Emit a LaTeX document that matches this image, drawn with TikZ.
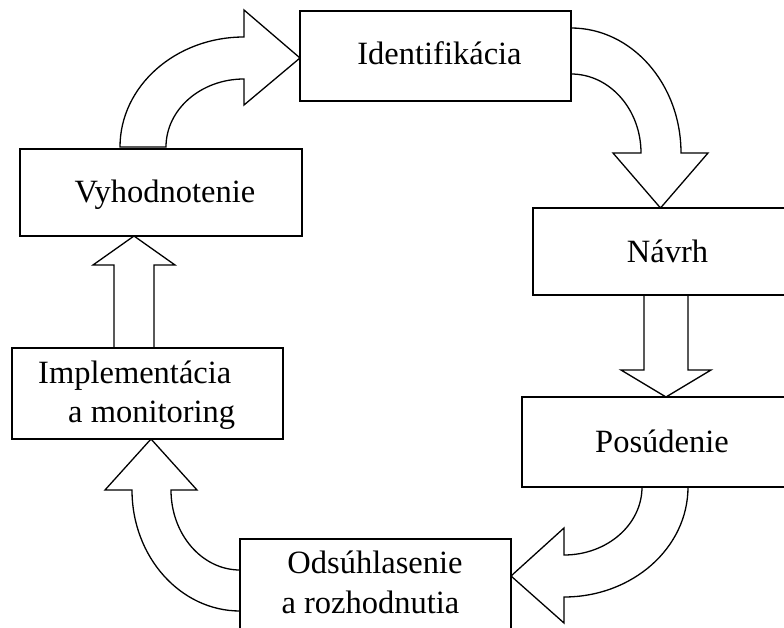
\documentclass[tikz,border=0pt]{standalone}
\usepackage{fontspec}
\setmainfont{Liberation Serif}
\begin{document}
\begin{tikzpicture}[x=1pt,y=-1pt,
  box/.style={draw, line width=2pt, fill=white, rectangle, inner sep=0pt},
  blockarrow/.style={draw, line width=1.3pt, fill=white, line join=miter},
  lbl/.style={inner sep=0pt, font=\fontsize{32.5}{39}\selectfont}]
\useasboundingbox (0,0) rectangle (784,628);
\clip (0,0) rectangle (784,628);

% block arrows
% Vyhodnotenie -> Identifikacia
\draw[blockarrow] (120,147) .. controls (120,86.2) and (175.5,37) .. (244,37)
  -- (244,10) -- (300,58) -- (244,105) -- (244,79)
  .. controls (200.9,79) and (166,109.4) .. (166,147) -- cycle;
% Identifikacia -> Navrh
\draw[blockarrow] (571,28) .. controls (631.8,28) and (681,84) .. (681,153)
  -- (708,153) -- (660.5,208) -- (613,153) -- (641,153)
  .. controls (641,109.4) and (609.7,74) .. (571,74) -- cycle;
% Navrh -> Posudenie
\draw[blockarrow] (644,295) -- (644,370) -- (621,370) -- (666,397) -- (711,370)
  -- (688,370) -- (688,295) -- cycle;
% Posudenie -> Odsuhlasenie
\draw[blockarrow] (688,487) .. controls (688,547.8) and (632.5,597) .. (564,597)
  -- (564,623) -- (511,576) -- (564,528) -- (564,555)
  .. controls (607.1,555) and (642,524.6) .. (642,487) -- cycle;
% Odsuhlasenie -> Implementacia
\draw[blockarrow] (240,611) .. controls (180.4,611) and (132,556.8) .. (132,490)
  -- (105,490) -- (151,439) -- (197,490) -- (171,490)
  .. controls (171,534.2) and (201.9,570) .. (240,570) -- cycle;
% Implementacia -> Vyhodnotenie
\draw[blockarrow] (114,348) -- (114,265) -- (93,265) -- (134,236) -- (175,265)
  -- (154,265) -- (154,348) -- cycle;

% boxes
\node[box, minimum width=271pt, minimum height=90pt] (ident) at (435.5,56) {};
\node[box, minimum width=268pt, minimum height=87pt] (navrh) at (667,251.5) {};
\node[box, minimum width=280pt, minimum height=90pt] (posud) at (662,442) {};
\node[box, minimum width=271pt, minimum height=111pt] (odsuh) at (375.5,594.5) {};
\node[box, minimum width=271pt, minimum height=91pt] (impl) at (147.5,393.5) {};
\node[box, minimum width=282pt, minimum height=87pt] (vyhod) at (161,192.5) {};

% labels
\node[lbl, anchor=base] (tident) at (439.5,65) {Identifikácia};
\node[lbl, anchor=base] (tnavrh) at (667.5,263) {Návrh};
\node[lbl, anchor=base] (tposud) at (662,452) {Posúdenie};
\node[lbl, anchor=base] (todsuh1) at (375,573) {Odsúhlasenie};
\node[lbl, anchor=base] (todsuh2) at (370.5,613) {a rozhodnutia};
\node[lbl, anchor=base west] (timpl1) at (38,383) {Implementácia};
\node[lbl, anchor=base west] (timpl2) at (68,422) {a monitoring};
\node[lbl, anchor=base] (tvyhod) at (165,203) {Vyhodnotenie};
\end{tikzpicture}
\end{document}
